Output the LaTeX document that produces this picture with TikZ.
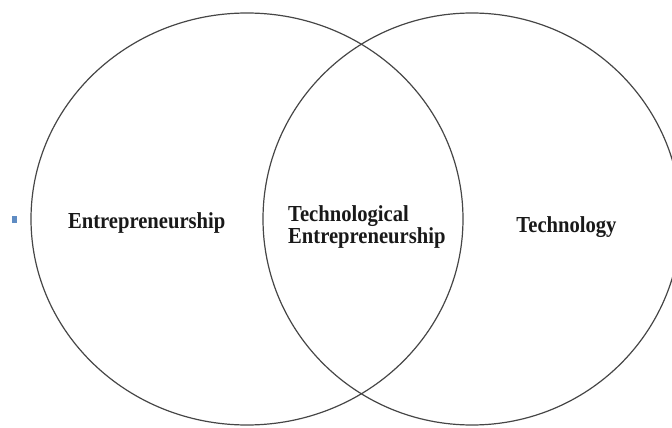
\documentclass[tikz,border=0pt]{standalone}
\usepackage{fontspec}
\setmainfont{Liberation Serif}
\newfontfamily\vennfont[FakeStretch=0.9]{Liberation Serif}
\usepackage{tikz}
\definecolor{ringgray}{RGB}{70,70,70}
\definecolor{bulletblue}{RGB}{95,140,195}
\tikzset{
  ring/.style={draw=ringgray, line width=1.2pt},
  venntext/.style={inner sep=0pt, text=black!90,
    font=\vennfont\fontsize{22.9}{22}\selectfont\bfseries}
}

\begin{document}
\begin{tikzpicture}[x=1pt, y=-1pt]
                \useasboundingbox (0,0) rectangle (672,428);
                \clip (0,0) rectangle (672,428);
                \draw[ring](247,219) ellipse (216 and 206);
                \draw[ring](472,219) ellipse (209 and 206);
                \fill[bulletblue](12,216) rectangle (16.5,223);
                \node[venntext, anchor=base] (entre) at (146.7,228){Entrepreneurship};
                \node[venntext, anchor=base west, align=left] (techentre) at (288,243){Technological\\Entrepreneurship};
                \node[venntext, anchor=base] (tech) at (566.5,232){Technology};
            \end{tikzpicture}
\end{document}
